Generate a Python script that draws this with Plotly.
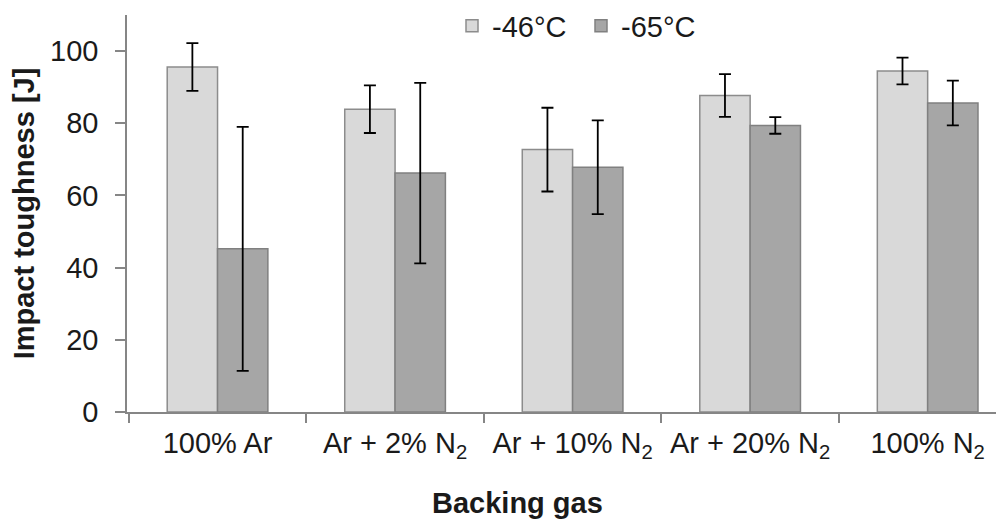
import plotly.graph_objects as go

categories = ["100% Ar", "Ar + 2% N<sub>2</sub>", "Ar + 10% N<sub>2</sub>",
              "Ar + 20% N<sub>2</sub>", "100% N<sub>2</sub>"]
series_names = ["-46°C", "-65°C"]
values_m46 = [95.6, 83.9, 72.7, 87.7, 94.5]
errors_m46 = [6.6, 6.6, 11.6, 5.9, 3.7]
values_m65 = [45.2, 66.2, 67.8, 79.4, 85.6]
errors_m65 = [33.8, 25.0, 13.0, 2.3, 6.2]
y_ticks = [0, 20, 40, 60, 80, 100]

FONT = "Liberation Sans, Arial, sans-serif"
FS = 29

fig = go.Figure()
fig.add_trace(go.Bar(
    name=series_names[0], x=categories, y=values_m46,
    marker=dict(color="#d9d9d9", line=dict(color="#8c8c8c", width=1.5)),
    error_y=dict(type="data", array=errors_m46, color="black", thickness=1.8, width=6),
))
fig.add_trace(go.Bar(
    name=series_names[1], x=categories, y=values_m65,
    marker=dict(color="#a6a6a6", line=dict(color="#808080", width=1.5)),
    error_y=dict(type="data", array=errors_m65, color="black", thickness=1.8, width=6),
))

# page has an 8px body margin: figure origin sits at page (8, 8)
OFF = 8
W, H = 1004 - OFF, 523 - OFF
L, R, T, B = 127 - OFF, 0, 15 - OFF, 523 - 412
plot_w = W - L - R
plot_h = H - T - B


def px_x(page_x):
    return (page_x - OFF - L) / plot_w


def px_y(page_y):
    return (H - B - (page_y - OFF)) / plot_h


fig.update_layout(
    width=W, height=H,
    margin=dict(l=L, r=R, t=T, b=B, autoexpand=False),
    paper_bgcolor="white", plot_bgcolor="white",
    barmode="group", bargap=0.433, bargroupgap=0,
    font=dict(family=FONT, size=FS, color="#1a1a1a"),
    legend=dict(orientation="h", x=px_x(452), xanchor="left",
                y=px_y(26), yanchor="middle",
                font=dict(size=FS), bgcolor="rgba(0,0,0,0)", itemwidth=30,
                entrywidth=84, entrywidthmode="pixels"),
    xaxis=dict(
        range=[-0.51, 4.43], showline=True, linecolor="#868686", linewidth=1.5,
        ticks="outside", tickson="boundaries", ticklen=9, tickcolor="#868686",
        tickwidth=1.5, showgrid=False, zeroline=False, automargin=False,
        tickfont=dict(size=FS), ticklabelstandoff=4,
    ),
    yaxis=dict(
        range=[0, 110], tickvals=y_ticks, showline=True, linecolor="#868686",
        linewidth=1.5, ticks="outside", ticklen=10, tickcolor="#868686", tickwidth=1.5,
        showgrid=False, zeroline=False, tickfont=dict(size=FS), ticklabelstandoff=11,
        automargin=False,
        title=dict(text="<b>Impact toughness [J]</b>", font=dict(size=FS), standoff=7),
    ),
    annotations=[dict(text="<b>Backing gas</b>",
                      x=px_x(517), xref="paper",
                      y=px_y(503), yref="paper",
                      xanchor="center", yanchor="middle",
                      showarrow=False, font=dict(size=FS))],
)

fig.write_html("out.html")
